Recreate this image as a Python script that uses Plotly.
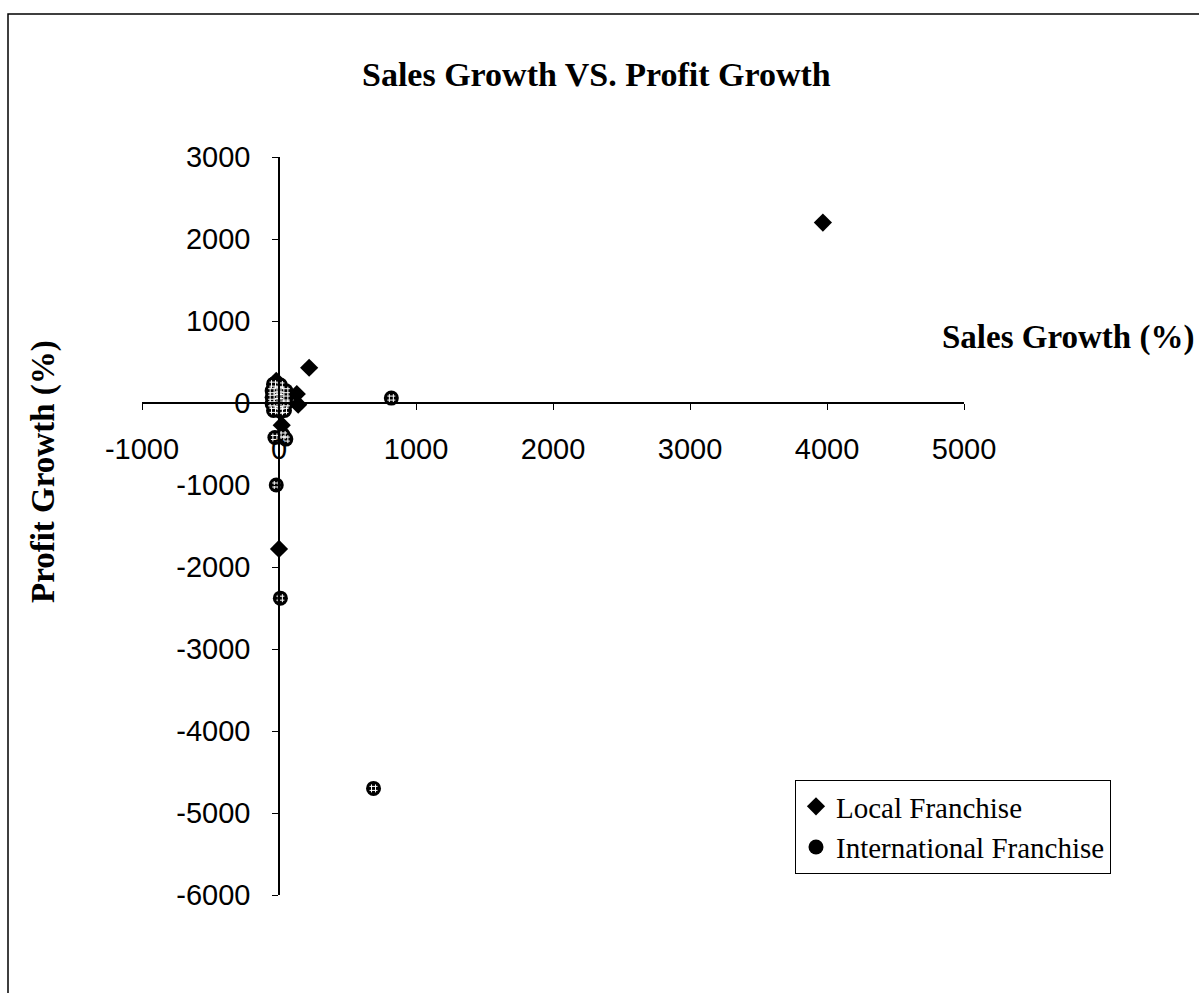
import plotly.graph_objects as go

# Sales growth (%) vs profit growth (%) for two franchise groups
local_sales = [3970, 220, -20, 130, 140, 20, 0]
local_profit = [2200, 430, 270, 110, -20, -270, -1780]

intl_sales = [-40, 10, -50, 0, 50, -50, 0, 50, -50, 0, 50, -40, 10, 40,
              820, 690, 10, -20, -30, 50, 30]
intl_profit = [230, 220, 150, 160, 150, 70, 80, 60, -10, -20, -10, -90, -100, -90,
               60, -4700, -2380, -1000, -420, -440, -390]

x_ticks = [-1000, 0, 1000, 2000, 3000, 4000, 5000]
x_tick_labels = ["-1000", "0", "1000", "2000", "3000", "4000", "5000"]
y_ticks = [3000, 2000, 1000, 0, -1000, -2000, -3000, -4000, -5000, -6000]
y_tick_labels = ["3000", "2000", "1000", "0", "-1000", "-2000", "-3000", "-4000", "-5000", "-6000"]

SERIF = "Liberation Serif, Times New Roman, serif"
SANS = "Liberation Sans, Arial, sans-serif"

W, H = 1199, 993
ML, MR, MT, MB = 142, 235, 157, 98
PW, PH = W - ML - MR, H - MT - MB


def px_x(p):
    return (p - ML) / PW


def px_y(p):
    return (H - MB - p) / PH


fig = go.Figure()

fig.add_trace(go.Scatter(
    x=local_sales, y=local_profit, mode="markers", name="Local Franchise",
    marker=dict(symbol="diamond", size=14, color="black", line=dict(width=0)),
))
fig.add_trace(go.Scatter(
    x=intl_sales, y=intl_profit, mode="markers", name="International Franchise",
    legendgroup="intl",
    marker=dict(symbol="circle", size=15, color="black", line=dict(width=0)),
))
# white hatching on the international markers
fig.add_trace(go.Scatter(
    x=intl_sales, y=intl_profit, mode="markers", showlegend=False,
    legendgroup="intl", hoverinfo="skip",
    marker=dict(symbol="hash-open", size=8, color="white",
                line=dict(width=1, color="white")),
))

x_min, x_max = -1000, 5000
y_min, y_max = -6000, 3000

fig.update_layout(
    width=W, height=H, autosize=False,
    margin=dict(l=ML, r=MR, t=MT, b=MB),
    paper_bgcolor="white", plot_bgcolor="white",
    showlegend=True,
    legend=dict(
        x=px_x(795), y=px_y(780), xanchor="left", yanchor="top",
        bordercolor="black", borderwidth=1, bgcolor="white",
        font=dict(family=SERIF, size=29, color="black"),
        tracegroupgap=0,
    ),
    xaxis=dict(
        range=[x_min, x_max], anchor="free",
        position=(0 - y_min) / (y_max - y_min),
        tickmode="array", tickvals=x_ticks, ticktext=x_tick_labels,
        ticks="outside", ticklen=6, tickwidth=1, tickcolor="black",
        ticklabelstandoff=14,
        showline=True, linecolor="black", linewidth=1.5,
        showgrid=False, zeroline=False,
        tickfont=dict(family=SANS, size=29, color="black"),
    ),
    yaxis=dict(
        range=[y_min, y_max], anchor="free",
        position=(0 - x_min) / (x_max - x_min),
        tickmode="array", tickvals=y_ticks, ticktext=y_tick_labels,
        ticks="outside", ticklen=6, tickwidth=1, tickcolor="black",
        ticklabelstandoff=16,
        showline=True, linecolor="black", linewidth=1.5,
        showgrid=False, zeroline=False,
        tickfont=dict(family=SANS, size=29, color="black"),
    ),
    annotations=[
        dict(text="<b>Sales Growth VS. Profit Growth</b>", xref="paper", yref="paper",
             x=px_x(596), y=px_y(75), xanchor="center", yanchor="middle",
             showarrow=False, font=dict(family=SERIF, size=34, color="black")),
        dict(text="<b>Sales Growth (%)</b>", xref="paper", yref="paper",
             x=px_x(1196), y=px_y(337), xanchor="right", yanchor="middle",
             showarrow=False, font=dict(family=SERIF, size=33, color="black")),
        dict(text="<b>Profit Growth (%)</b>", xref="paper", yref="paper",
             x=px_x(43), y=px_y(472), xanchor="center", yanchor="middle",
             textangle=-90, showarrow=False,
             font=dict(family=SERIF, size=33, color="black")),
    ],
    shapes=[
        dict(type="rect", xref="paper", yref="paper",
             x0=px_x(8), x1=px_x(1260), y0=px_y(1060), y1=px_y(14),
             line=dict(color="black", width=1.5), fillcolor="rgba(0,0,0,0)",
             layer="below"),
    ],
)

fig.write_html("out.html")
